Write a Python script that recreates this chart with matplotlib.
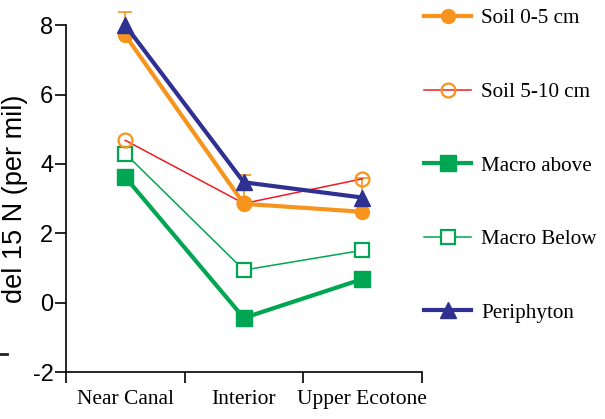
import matplotlib.pyplot as plt
from matplotlib.lines import Line2D

sites = ["Near Canal", "Interior", "Upper Ecotone"]
soil_0_5 = [7.71, 2.85, 2.62]
soil_0_5_err = [0.68, 0.83, 0.97]
soil_5_10 = [4.68, 2.86, 3.57]
macro_above = [3.62, -0.44, 0.68]
macro_below = [4.30, 0.94, 1.51]
periphyton = [8.00, 3.47, 3.03]

orange = "#F7941D"
red = "#ED1C24"
green = "#00A651"
navy = "#2E3192"

plt.rcParams["font.family"] = ["Liberation Sans", "DejaVu Sans"]

fig = plt.figure(figsize=(6.05, 4.19), dpi=100)
ax = fig.add_axes([0.109, 0.112, 0.588, 0.828])

x = [0.5, 1.5, 2.5]

ax.errorbar(x, soil_0_5, yerr=[[0, 0, 0], soil_0_5_err], fmt="none",
            ecolor=orange, elinewidth=1.2, capsize=5, capthick=1.2,
            clip_on=False, zorder=2)
ax.plot(x, macro_above, color=green, lw=3, marker="s", ms=11,
        mfc=green, mec=green, label="Macro above", clip_on=False, zorder=3)
ax.plot(x, macro_below, color=green, lw=1.1, marker="s", ms=10,
        mfc="white", mec=green, mew=1.6, label="Macro Below", clip_on=False, zorder=3)
ax.plot(x, soil_5_10, color=red, lw=1.1, marker="o", ms=10,
        mfc="none", mec=orange, mew=1.6, label="Soil 5-10 cm", clip_on=False, zorder=4)
ax.plot(x, soil_0_5, color=orange, lw=3, marker="o", ms=10,
        mfc=orange, mec=orange, label="Soil 0-5 cm", clip_on=False, zorder=5)
ax.plot(x, periphyton, color=navy, lw=3, marker="^", ms=11,
        mfc=navy, mec=navy, label="Periphyton", clip_on=False, zorder=6)

ax.set_xlim(0, 3)
ax.set_ylim(-2, 8)
ax.set_xticks([0, 1, 2, 3])
ax.set_xticklabels([])
ax.set_xticks(x, minor=True)
ax.set_xticklabels(sites, minor=True, family="Liberation Serif", fontsize=15.5)
ax.tick_params(axis="x", which="minor", length=0, pad=13)
ax.tick_params(axis="x", which="major", length=8, width=1.2, direction="out")
ax.set_yticks([-2, 0, 2, 4, 6, 8])
ax.set_yticklabels(["-2", "0", "2", "4", "6", "8"])
ax.tick_params(axis="y", length=8, width=1.2, direction="out", labelsize=17, pad=1)
ax.set_ylabel("del 15 N (per mil)", fontsize=19.5, labelpad=3)

for s in ["top", "right"]:
    ax.spines[s].set_visible(False)
for s in ["left", "bottom"]:
    ax.spines[s].set_linewidth(1.2)

handles, labels = ax.get_legend_handles_labels()
order = ["Soil 0-5 cm", "Soil 5-10 cm", "Macro above", "Macro Below", "Periphyton"]
hmap = dict(zip(labels, handles))
fig.legend([hmap[k] for k in order], order, loc="upper left",
           bbox_to_anchor=(0.67, 1.025), frameon=False,
           prop={"family": "Liberation Serif", "size": 15.2},
           handlelength=2.2, handletextpad=0.5, labelspacing=2.55)

fig.add_artist(Line2D([0.0, 0.012], [0.155, 0.155], color="#222222", lw=2))

fig.savefig("out.png", dpi=100)
